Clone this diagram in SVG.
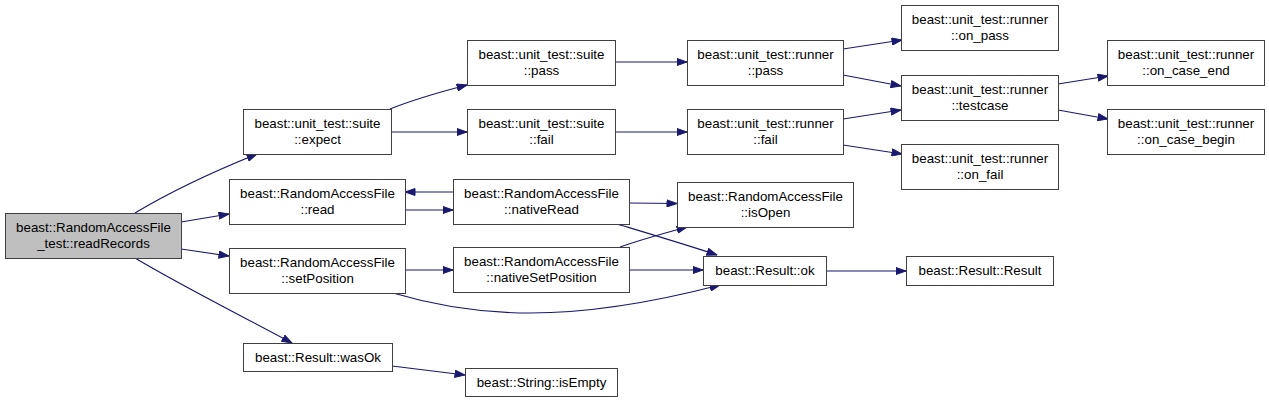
<svg xmlns="http://www.w3.org/2000/svg" width="1269" height="403" viewBox="0 0 1269 403">
<style>
.n rect{fill:#fff;stroke:#404040;stroke-width:1}
.n text{font-family:"Liberation Sans",Arial,sans-serif;font-size:13.33px;fill:#000;text-anchor:middle}
.e path{fill:none;stroke:#191970;stroke-width:1.2;marker-end:url(#ah)}
</style>
<defs>
<marker id="ah" markerWidth="11" markerHeight="8" refX="10.5" refY="4" orient="auto" markerUnits="userSpaceOnUse">
<path d="M0.5,0.5 L10.5,4 L0.5,7.5 z" fill="#191970" stroke="#191970" stroke-width="1"/>
</marker>
</defs>
<rect width="1269" height="403" fill="#fff"/>
<g id="edges" class="e">
<path d="M135,213 C165,195 205,175 257,154"/>
<path d="M181,222 L229,214"/>
<path d="M181,249 L229,256"/>
<path d="M135,258 C180,285 240,315 292,343"/>
<path d="M390,109 C410,101 440,92 467,85"/>
<path d="M391,132 L467,132"/>
<path d="M615,62 L687,62"/>
<path d="M615,132 L687,132"/>
<path d="M843,49 L902,40"/>
<path d="M843,75 L901,86"/>
<path d="M843,119 L901,110"/>
<path d="M843,145 L902,154"/>
<path d="M1058,84 L1108,76"/>
<path d="M1058,110 L1108,119"/>
<path d="M405,210 L453,210"/>
<path d="M453,192 L405,192"/>
<path d="M405,270 L453,270"/>
<path d="M629,203 L677,203.5"/>
<path d="M617,224 C650,234 690,246 717,255"/>
<path d="M620,247 C640,240 665,233 687,227"/>
<path d="M629,270 L703,270"/>
<path d="M393,293 C430,304 475,313 530,313 C600,313 670,298 720,285"/>
<path d="M827,271 L906,271"/>
<path d="M392,366 L465,375"/>
</g>
<g id="n0" class="n"><rect x="5.5" y="213.5" width="176" height="45" style="fill:#bfbfbf"/><text x="93.5" y="231.5">beast::RandomAccessFile</text><text x="93.5" y="248">_test::readRecords</text></g>
<g id="n1" class="n"><rect x="243.5" y="109.5" width="148" height="45"/><text x="317.5" y="127.5">beast::unit_test::suite</text><text x="317.5" y="144">::expect</text></g>
<g id="n2" class="n"><rect x="467.5" y="40.5" width="148" height="45"/><text x="541.5" y="58.5">beast::unit_test::suite</text><text x="541.5" y="75">::pass</text></g>
<g id="n3" class="n"><rect x="467.5" y="109.5" width="148" height="45"/><text x="541.5" y="127.5">beast::unit_test::suite</text><text x="541.5" y="144">::fail</text></g>
<g id="n4" class="n"><rect x="687.5" y="40.5" width="156" height="45"/><text x="765.5" y="58.5">beast::unit_test::runner</text><text x="765.5" y="75">::pass</text></g>
<g id="n5" class="n"><rect x="687.5" y="109.5" width="156" height="45"/><text x="765.5" y="127.5">beast::unit_test::runner</text><text x="765.5" y="144">::fail</text></g>
<g id="n6" class="n"><rect x="901.5" y="5.5" width="157" height="45"/><text x="980" y="23.5">beast::unit_test::runner</text><text x="980" y="40">::on_pass</text></g>
<g id="n7" class="n"><rect x="901.5" y="75.5" width="157" height="45"/><text x="980" y="93.5">beast::unit_test::runner</text><text x="980" y="110">::testcase</text></g>
<g id="n8" class="n"><rect x="901.5" y="144.5" width="157" height="45"/><text x="980" y="162.5">beast::unit_test::runner</text><text x="980" y="179">::on_fail</text></g>
<g id="n9" class="n"><rect x="1107.5" y="40.5" width="157" height="45"/><text x="1186" y="58.5">beast::unit_test::runner</text><text x="1186" y="75">::on_case_end</text></g>
<g id="n10" class="n"><rect x="1107.5" y="109.5" width="157" height="45"/><text x="1186" y="127.5">beast::unit_test::runner</text><text x="1186" y="144">::on_case_begin</text></g>
<g id="n11" class="n"><rect x="229.5" y="179.5" width="176" height="45"/><text x="317.5" y="197.5">beast::RandomAccessFile</text><text x="317.5" y="214">::read</text></g>
<g id="n12" class="n"><rect x="229.5" y="248.5" width="176" height="45"/><text x="317.5" y="266.5">beast::RandomAccessFile</text><text x="317.5" y="283">::setPosition</text></g>
<g id="n13" class="n"><rect x="453.5" y="179.5" width="176" height="45"/><text x="541.5" y="197.5">beast::RandomAccessFile</text><text x="541.5" y="214">::nativeRead</text></g>
<g id="n14" class="n"><rect x="453.5" y="247.5" width="176" height="45"/><text x="541.5" y="265.5">beast::RandomAccessFile</text><text x="541.5" y="282">::nativeSetPosition</text></g>
<g id="n15" class="n"><rect x="677.5" y="182.5" width="176" height="45"/><text x="765.5" y="200.5">beast::RandomAccessFile</text><text x="765.5" y="217">::isOpen</text></g>
<g id="n16" class="n"><rect x="703.5" y="256.5" width="123" height="29"/><text x="765" y="274.5">beast::Result::ok</text></g>
<g id="n17" class="n"><rect x="906.5" y="256.5" width="147" height="29"/><text x="980" y="274.5">beast::Result::Result</text></g>
<g id="n18" class="n"><rect x="243.5" y="343.5" width="149" height="28"/><text x="318" y="361.5">beast::Result::wasOk</text></g>
<g id="n19" class="n"><rect x="465.5" y="368.5" width="152" height="28"/><text x="541.5" y="386.5">beast::String::isEmpty</text></g>
</svg>
